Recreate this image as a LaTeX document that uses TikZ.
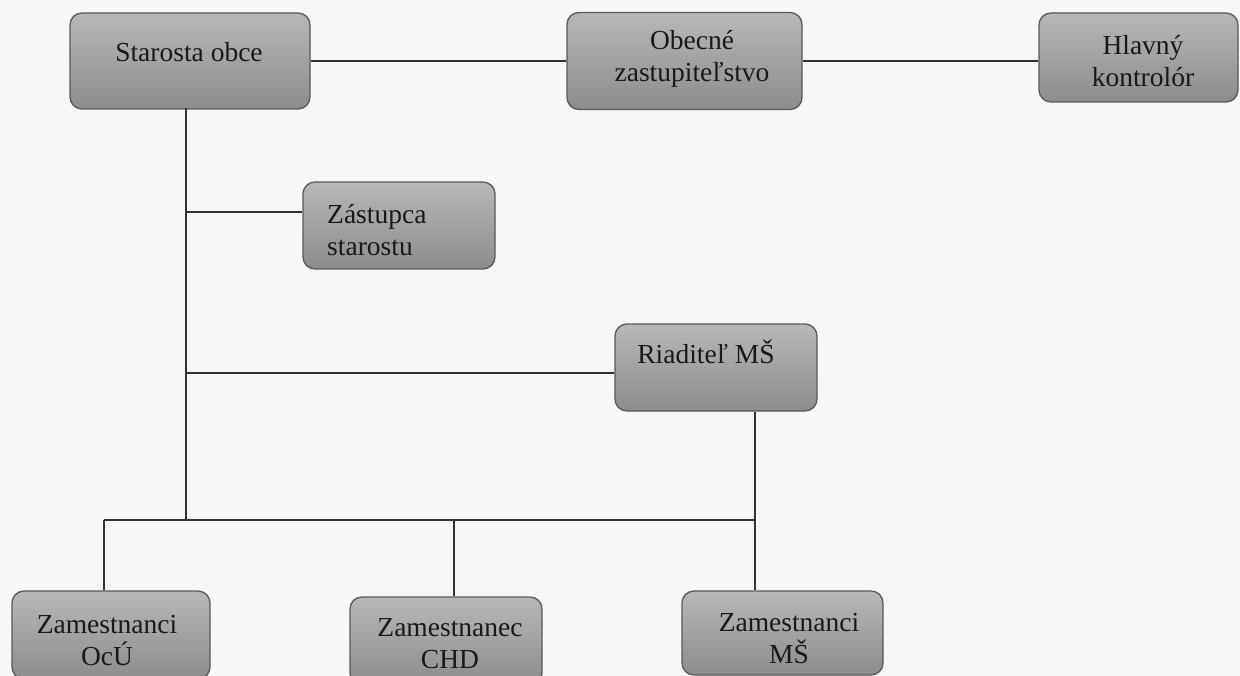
\documentclass[tikz,border=0pt]{standalone}
\usepackage{fontspec}
\setmainfont{Liberation Serif}
\begin{document}
\begin{tikzpicture}[x=1pt,y=-1pt,
  orgbox/.style={draw=black!65, line width=1.3pt, rounded corners=12pt,
    top color=black!28, bottom color=black!45, inner sep=0pt},
  orgtext/.style={font=\fontsize{27.5}{32}\selectfont, align=center, inner sep=0pt, text=black!90},
  conn/.style={draw=black!80, line width=1.6pt}]
\fill[black!3] (0,0) rectangle (1240,676);
\useasboundingbox (0,0) rectangle (1240,676);

% boxes
\node[orgbox, minimum width=240pt, minimum height=96pt] (starosta) at (190,61) {};
\node[orgtext] (starostaT) at (189,52) {Starosta obce};

\node[orgbox, minimum width=235pt, minimum height=97pt] (obecne) at (684.5,61) {};
\node[orgtext] (obecneT) at (692,59) {Obecné\\zastupiteľstvo};

\node[orgbox, minimum width=199pt, minimum height=89pt] (hlavny) at (1138.5,57.5) {};
\node[orgtext] (hlavnyT) at (1143,61) {Hlavný\\kontrolór};

\node[orgbox, minimum width=192pt, minimum height=87pt] (zastupca) at (399,225.5) {};
\node[orgtext, align=left, anchor=west] (zastupcaT) at (327,230) {Zástupca\\starostu};

\node[orgbox, minimum width=202pt, minimum height=87pt] (riaditel) at (716,367.5) {};
\node[orgtext] (riaditelT) at (706,352) {Riaditeľ MŠ};

\node[orgbox, minimum width=198pt, minimum height=88pt] (zamocu) at (111,635) {};
\node[orgtext] (zamocuT) at (107,641) {Zamestnanci\\OcÚ};

\node[orgbox, minimum width=192pt, minimum height=88pt] (zamchd) at (446,641) {};
\node[orgtext] (zamchdT) at (450,644) {Zamestnanec\\CHD};

\node[orgbox, minimum width=201pt, minimum height=84pt] (zamms) at (782.5,633) {};
\node[orgtext] (zammsT) at (789,639) {Zamestnanci\\MŠ};

% junction coordinates
\coordinate (trunkTop) at (186,108);
\coordinate (jz) at (186,212);
\coordinate (jr) at (186,373);
\coordinate (tj) at (186,520);
\coordinate (busL) at (104,520);
\coordinate (busM) at (454,520);
\coordinate (busR) at (755,520);

% connectors
\draw[conn] (starosta.east) -- (starosta.east -| obecne.west);
\draw[conn] (obecne.east) -- (obecne.east -| hlavny.west);
\draw[conn] (trunkTop) -- (tj);
\draw[conn] (jz) -- (jz -| zastupca.west);
\draw[conn] (jr) -- (jr -| riaditel.west);
\draw[conn] (busL) -- (busR);
\draw[conn] (busL) -- (busL |- zamocu.north);
\draw[conn] (busM) -- (busM |- zamchd.north);
\draw[conn] (busR |- riaditel.south) -- (busR |- zamms.north);
\end{tikzpicture}
\end{document}
